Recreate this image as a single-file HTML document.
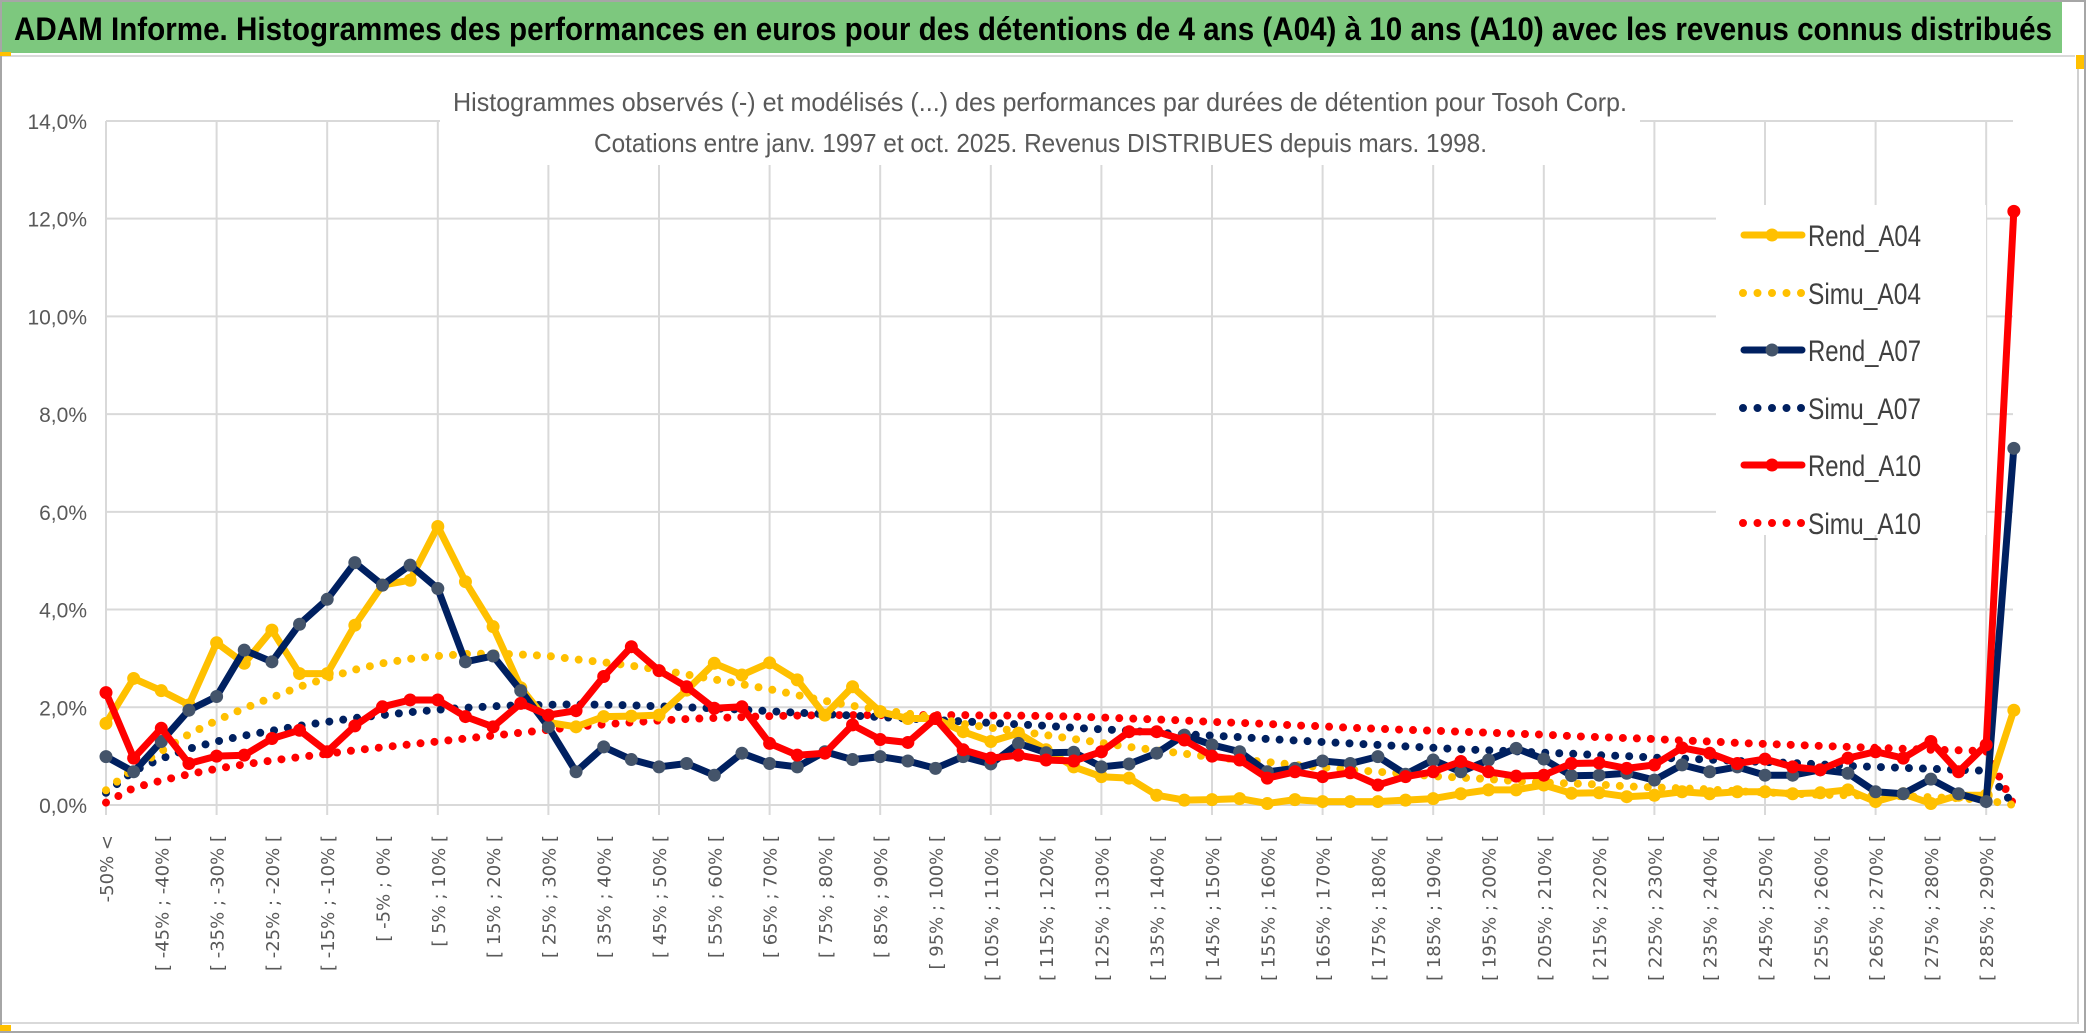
<!DOCTYPE html>
<html><head><meta charset="utf-8"><style>
html,body{margin:0;padding:0;background:#fff;}
svg{display:block;}
</style></head><body>
<svg id="chart" width="2086" height="1033" viewBox="0 0 2086 1033" xmlns="http://www.w3.org/2000/svg">
<rect x="0" y="0" width="2086" height="1033" fill="#fff"/>
<rect x="1" y="1" width="2084" height="1031" fill="none" stroke="#a6a6a6" stroke-width="2"/>
<rect x="2" y="2" width="2060" height="51" fill="#7dc87e"/>
<line x1="2" y1="56" x2="2075" y2="56" stroke="#d9d9d9" stroke-width="2"/>
<line x1="2078" y1="56" x2="2078" y2="1024" stroke="#d0d0d0" stroke-width="2"/>
<line x1="2" y1="1023" x2="2078" y2="1023" stroke="#d9d9d9" stroke-width="2"/>
<rect x="0" y="52" width="11" height="4" fill="#ffc000"/>
<rect x="0" y="1025" width="11" height="6" fill="#ffc000"/>
<rect x="2076" y="55" width="8" height="14" fill="#ffc000"/>
<text x="14" y="40" font-family="'Liberation Sans Narrow','Liberation Sans',sans-serif" font-weight="bold" font-size="32" fill="#000" textLength="2038" lengthAdjust="spacingAndGlyphs">ADAM Informe. Histogrammes des performances en euros pour des détentions de 4 ans (A04) à 10 ans (A10) avec les revenus connus distribués</text>
<g id="grid"></g>
<rect x="440" y="70" width="1200" height="95" fill="#fff"/>
<text x="453" y="111" font-family="'Liberation Sans Narrow','Liberation Sans',sans-serif" font-size="26" fill="#595959" textLength="1174" lengthAdjust="spacingAndGlyphs">Histogrammes observés (-) et modélisés (...) des performances par durées de détention pour Tosoh Corp.</text>
<text x="594" y="152" font-family="'Liberation Sans Narrow','Liberation Sans',sans-serif" font-size="26" fill="#595959" textLength="893" lengthAdjust="spacingAndGlyphs">Cotations entre janv. 1997 et oct. 2025. Revenus DISTRIBUES depuis mars. 1998.</text>
<g id="ylabels"></g>
<g id="xlabels"></g>
<g id="series"></g>
<g id="legend"></g>
</svg>
<script>
const rendA04 = [1.67,2.59,2.34,2.05,3.32,2.9,3.58,2.69,2.69,3.68,4.5,4.6,5.7,4.57,3.65,2.4,1.69,1.6,1.81,1.82,1.84,2.35,2.9,2.66,2.91,2.56,1.84,2.42,1.91,1.77,1.77,1.5,1.3,1.47,1.13,0.78,0.58,0.55,0.2,0.1,0.11,0.13,0.03,0.11,0.07,0.07,0.07,0.1,0.13,0.23,0.31,0.31,0.41,0.24,0.25,0.17,0.2,0.27,0.23,0.27,0.27,0.23,0.25,0.31,0.07,0.23,0.03,0.2,0.2,1.94];
const rendA07 = [0.99,0.68,1.3,1.94,2.22,3.17,2.93,3.7,4.21,4.96,4.5,4.91,4.43,2.93,3.05,2.34,1.6,0.68,1.19,0.93,0.78,0.85,0.61,1.06,0.85,0.78,1.09,0.93,0.99,0.9,0.75,0.99,0.84,1.26,1.07,1.08,0.78,0.84,1.06,1.43,1.23,1.09,0.68,0.75,0.9,0.85,0.99,0.63,0.92,0.68,0.92,1.16,0.94,0.6,0.61,0.65,0.51,0.82,0.68,0.78,0.61,0.61,0.72,0.65,0.27,0.23,0.53,0.23,0.07,7.3];
const rendA10 = [2.3,0.96,1.57,0.85,1.0,1.02,1.36,1.53,1.09,1.62,2.01,2.15,2.15,1.81,1.6,2.08,1.84,1.93,2.63,3.24,2.75,2.42,1.98,2.01,1.26,1.02,1.06,1.64,1.34,1.28,1.77,1.13,0.96,1.02,0.92,0.9,1.09,1.5,1.5,1.33,1.0,0.92,0.55,0.68,0.58,0.66,0.41,0.58,0.68,0.89,0.68,0.59,0.61,0.85,0.86,0.75,0.82,1.17,1.06,0.85,0.94,0.78,0.72,0.96,1.09,0.96,1.3,0.68,1.23,12.15];
const simuA04 = [0.3,0.75,1.1,1.45,1.73,1.98,2.2,2.42,2.6,2.77,2.9,2.99,3.05,3.09,3.1,3.08,3.05,2.98,2.92,2.85,2.77,2.67,2.57,2.47,2.37,2.25,2.13,2.03,1.95,1.87,1.79,1.66,1.58,1.51,1.43,1.35,1.27,1.19,1.12,1.05,0.98,0.93,0.88,0.82,0.77,0.72,0.68,0.64,0.59,0.56,0.53,0.49,0.46,0.44,0.42,0.38,0.36,0.34,0.32,0.28,0.26,0.23,0.21,0.2,0.19,0.18,0.16,0.14,0.1,0.0];
const simuA07 = [0.25,0.7,0.95,1.15,1.3,1.42,1.52,1.62,1.7,1.78,1.84,1.9,1.95,1.99,2.02,2.04,2.05,2.06,2.05,2.04,2.02,2.0,1.98,1.95,1.92,1.89,1.86,1.83,1.8,1.77,1.74,1.71,1.68,1.65,1.62,1.58,1.55,1.52,1.48,1.45,1.42,1.39,1.35,1.32,1.29,1.26,1.23,1.2,1.17,1.14,1.12,1.1,1.07,1.05,1.02,1.0,0.97,0.95,0.93,0.9,0.88,0.86,0.83,0.8,0.78,0.76,0.74,0.72,0.7,0.0];
const simuA10 = [0.05,0.35,0.5,0.63,0.74,0.83,0.91,0.98,1.05,1.12,1.18,1.24,1.3,1.36,1.42,1.48,1.54,1.6,1.65,1.69,1.73,1.76,1.78,1.8,1.82,1.83,1.84,1.84,1.84,1.84,1.84,1.84,1.83,1.83,1.82,1.81,1.79,1.77,1.75,1.73,1.7,1.68,1.66,1.63,1.61,1.58,1.56,1.54,1.52,1.5,1.48,1.46,1.44,1.41,1.39,1.37,1.35,1.32,1.3,1.27,1.25,1.23,1.21,1.19,1.17,1.15,1.13,1.12,1.1,0.0];
const yTicks = [0,2,4,6,8,10,12,14];
const yTickLabels = ["0,0%","2,0%","4,0%","6,0%","8,0%","10,0%","12,0%","14,0%"];

const NS = "http://www.w3.org/2000/svg";
const X0 = 106, DX = 27.65, Y0 = 805, PPU = 48.86, XEND = 2013;
function xs(i){ return X0 + i*DX; }
function ys(v){ return Y0 - v*PPU; }
function mk(tag, attrs, parent){ const e=document.createElementNS(NS,tag); for(const k in attrs) e.setAttribute(k,attrs[k]); parent.appendChild(e); return e; }

const categories = [];
categories.push("-50% <");
for(let a=-50;a<295;a+=5){ if(categories.length>=70) break; categories.push("[ "+a+"% ; "+(a+5)+"% ["); }

const grid = document.getElementById('grid');
yTicks.forEach(t=>{
  const l = mk('line',{x1:X0,x2:XEND,y1:ys(t),y2:ys(t),stroke:'#d9d9d9','stroke-width':2},grid);
  
  
});
for(let i=0;i<categories.length;i+=4){
  const l = mk('line',{x1:xs(i),x2:xs(i),y1:ys(14),y2:Y0+10,stroke:'#d9d9d9','stroke-width':2},grid);
  
  
}

const yl = document.getElementById('ylabels');
yTicks.forEach((t,k)=>{
  const tx = mk('text',{x:87,y:ys(t)+8,'text-anchor':'end','font-family':"'Liberation Sans Narrow','Liberation Sans',sans-serif",'font-size':21,fill:'#595959'},yl);
  tx.textContent = yTickLabels[k];
  
  
});

const xl = document.getElementById('xlabels');
categories.forEach((c,i)=>{
  if(i%2!==0) return;
  const x = xs(i)+7, y = 835;
  const tx = mk('text',{x:x,y:y,transform:`rotate(-90 ${x} ${y})`,'text-anchor':'end','font-family':"'DejaVu Sans',sans-serif",'font-size':18,fill:'#595959'},xl);
  tx.textContent = c;
  
  
});

const ser = document.getElementById('series');
function pts(arr){ return arr.map((v,i)=>xs(i).toFixed(1)+','+ys(v).toFixed(1)).join(' '); }
function dotted(arr,color,name){
  const p = mk('polyline',{points:pts(arr),fill:'none',stroke:color,'stroke-width':8,'stroke-linecap':'round','stroke-dasharray':'0 14'},ser);
  
  
}
function solid(arr,color,mcolor,name){
  const p = mk('polyline',{points:pts(arr),fill:'none',stroke:color,'stroke-width':7,'stroke-linejoin':'round'},ser);
  
  
  arr.forEach((v,i)=>{
    const c = mk('circle',{cx:xs(i),cy:ys(v),r:6.5,fill:mcolor},ser);
    
    
  });
}
dotted(simuA10,'#ff0000','simu-a10-line');
dotted(simuA07,'#002060','simu-a07-line');
dotted(simuA04,'#ffc000','simu-a04-line');
solid(rendA04,'#ffc000','#ffc000','rend-a04-line');
solid(rendA07,'#002060','#44546a','rend-a07-line');
solid(rendA10,'#ff0000','#ff0000','rend-a10-line');

const lg = document.getElementById('legend');
const bg = mk('rect',{x:1716,y:205,width:270,height:330,fill:'#fff'},lg);


const entries = [
  ['Rend_A04','#ffc000','#ffc000',false],
  ['Simu_A04','#ffc000',null,true],
  ['Rend_A07','#002060','#44546a',false],
  ['Simu_A07','#002060',null,true],
  ['Rend_A10','#ff0000','#ff0000',false],
  ['Simu_A10','#ff0000',null,true]
];
const legY = [235,293,350,408,465,523];
entries.forEach((e,k)=>{
  const y = legY[k];
  const g = mk('g',{},lg);
  
  
  if(e[3]){
    mk('line',{x1:1743,x2:1803,y1:y,y2:y,stroke:e[1],'stroke-width':8,'stroke-linecap':'round','stroke-dasharray':'0 14.5'},g);
  } else {
    mk('line',{x1:1744,x2:1802,y1:y,y2:y,stroke:e[1],'stroke-width':7,'stroke-linecap':'round'},g);
    mk('circle',{cx:1772,cy:y,r:6.5,fill:e[2]},g);
  }
  const t = mk('text',{x:1808,y:y+11,'font-family':"'Liberation Sans Narrow','Liberation Sans',sans-serif",'font-size':30,fill:'#404040',textLength:113,lengthAdjust:'spacingAndGlyphs'},g);
  t.textContent = e[0];
});
</script>
</body></html>
